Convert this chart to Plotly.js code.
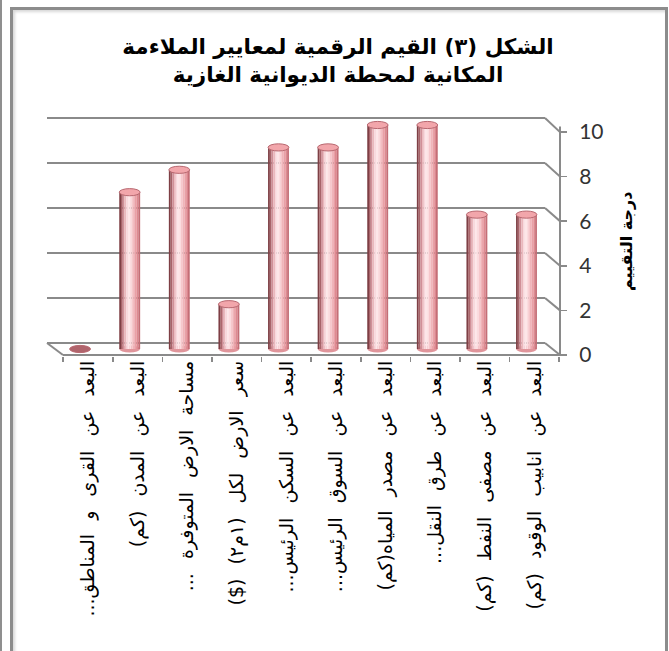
<!DOCTYPE html>
<html>
<head>
<meta charset="utf-8">
<script src="https://cdn.plot.ly/plotly-3.0.1.min.js"></script>
<style>
  html, body { margin: 0; padding: 0; background: #ffffff; }
  #leftline { position: absolute; left: 0; top: 0; width: 2px; height: 651px; background: #8f8f8f; }
  #frame { position: absolute; left: 10px; top: 7px; width: 652px; height: 700px;
           border: 3px solid #8c8c8c; border-bottom: none;
           box-shadow: inset 2px 2px 3px #d8d8d8; }
  #chart { position: absolute; left: 0; top: 0; width: 669px; height: 651px; }
  #chart .xtick text { word-spacing: 8px; }
</style>
</head>
<body>
<div id="leftline"></div>
<div id="frame"></div>
<div id="chart"></div>
<script>
// ---- data ----
const categories = [
  "البعد عن القرى و المناطق...",
  "البعد عن المدن (كم)",
  "مساحة الارض المتوفرة ...",
  "سعر الارض لكل (١م٢) ($)",
  "البعد عن السكن الرئيس...",
  "البعد عن السوق الرئيس...",
  "البعد عن مصدر المياه(كم)",
  "البعد عن طرق النقل...",
  "البعد عن مصفى النفط (كم)",
  "البعد عن انابيب الوقود (كم)"
];
const values = [0, 7, 8, 2, 9, 9, 10, 10, 6, 6];
const tickValues = [0, 2, 4, 6, 8, 10];
const tickLabels = ["0", "2", "4", "6", "8", "10"];
const chartTitle = "الشكل (٣) القيم الرقمية لمعايير الملاءمة<br>المكانية لمحطة الديوانية الغازية";
const yTitle = "درجة التقييم";

// right-to-left marks so trailing punctuation stays with the Arabic run
const catText = categories.map(c => "\u200F" + c + "\u200F");

// ---- geometry (pixel helpers for the pseudo-3D look) ----
const W = 669, H = 651;
const mL = 40, mR = 109, mT = 110, mB = 295;
const plotLeft = mL, plotRight = W - mR, plotTop = mT, plotBottom = H - mB;
const X0 = 88, XU = 49.6;          // category index -> px
const Y0 = 349, YU = 22.4;         // main value -> px (bar depth)
const px2x = p => (p - X0) / XU;
const px2y = p => (Y0 - p) / YU;
const backPx = v => 343 - 22.5 * v;
const frontPx = v => 355 - 22.3 * v;
const backL = 47, backR = 545, frontL = 63, frontR = plotRight;
const barShift = -0.16, barW = 0.42, capH = 0.16;

// cylinder shading strips (left -> right)
const stripColors = ["#7e3f45", "#a8646a", "#d09098", "#eab8bd", "#f8d8dc", "#fde6e8",
                     "#fbdcdf", "#f6c8cc", "#f0b4b9", "#e9a0a6", "#de8a91", "#c46e76"];
const sw = barW / stripColors.length;

const traces = stripColors.map((c, k) => ({
  type: "bar", x: categories, y: values,
  width: sw * 1.04, offset: barShift - barW / 2 + k * sw,
  marker: { color: c, line: { width: 0 } },
  hoverinfo: "skip", showlegend: false
}));
traces.push({
  type: "scatter", x: categories, y: values, yaxis: "y2", mode: "markers",
  marker: { opacity: 0 }, hoverinfo: "skip", showlegend: false
});

const shapes = [];
const grid = () => ({ color: "#8a8a8a", width: 2 });
tickValues.forEach(t => {
  shapes.push({ type: "line", layer: "below", xref: "x", yref: "y",
    x0: px2x(backL), x1: px2x(backR), y0: px2y(backPx(t)), y1: px2y(backPx(t)), line: grid() });
  shapes.push({ type: "line", layer: "below", xref: "x", yref: "y",
    x0: px2x(backR), x1: px2x(frontR), y0: px2y(backPx(t)), y1: px2y(frontPx(t)), line: grid() });
});
// floor
shapes.push({ type: "line", layer: "below", xref: "x", yref: "y",
  x0: px2x(backL), x1: px2x(frontL), y0: px2y(backPx(0)), y1: px2y(frontPx(0)), line: grid() });
shapes.push({ type: "line", layer: "below", xref: "x", yref: "y",
  x0: px2x(frontL), x1: px2x(frontR), y0: px2y(frontPx(0)), y1: px2y(frontPx(0)), line: grid() });
// value axis line
shapes.push({ type: "line", layer: "above", xref: "paper", yref: "y",
  x0: 1, x1: 1, y0: px2y(frontPx(-0.1)), y1: px2y(frontPx(10.25)), line: { color: "#8a8a8a", width: 2 } });
// cylinder bottoms and caps
values.forEach((v, i) => {
  const cx = i + barShift;
  shapes.push({ type: "circle", layer: "below", xref: "x", yref: "y",
    x0: cx - barW / 2, x1: cx + barW / 2, y0: -capH, y1: capH,
    fillcolor: "#e0959b", line: { width: 0 } });
  shapes.push({ type: "circle", layer: "above", xref: "x", yref: "y",
    x0: cx - barW / 2, x1: cx + barW / 2, y0: v - capH, y1: v + capH,
    fillcolor: v === 0 ? "#b0646c" : "#f2a6ab", line: { color: "#b86870", width: 1 } });
});

const layout = {
  width: W, height: H,
  margin: { l: mL, r: mR, t: mT, b: mB },
  paper_bgcolor: "rgba(0,0,0,0)", plot_bgcolor: "rgba(0,0,0,0)",
  barmode: "overlay", showlegend: false,
  title: {
    text: chartTitle, xref: "container", yref: "container",
    x: 338 / W, y: 1 - 54 / H, xanchor: "center", yanchor: "middle",
    font: { family: "DejaVu Sans", size: 21.5, color: "#000", weight: "bold" }
  },
  xaxis: {
    type: "category", categoryorder: "array", categoryarray: categories,
    tickmode: "array", tickvals: categories, ticktext: catText,
    range: [px2x(plotLeft), px2x(plotRight)], fixedrange: true,
    showgrid: false, zeroline: false, showline: false,
    ticks: "outside", tickson: "boundaries", ticklen: 5, tickwidth: 1.5, tickcolor: "#8a8a8a",
    tickangle: -90, automargin: false,
    tickfont: { family: "DejaVu Sans", size: 19, color: "#000" }
  },
  yaxis: {
    range: [px2y(plotBottom), px2y(plotTop)], visible: false, fixedrange: true,
    showgrid: false, zeroline: false
  },
  yaxis2: {
    overlaying: "y", side: "right", anchor: "x",
    range: [(355 - plotBottom) / 22.3, (355 - plotTop) / 22.3], fixedrange: true,
    tickmode: "array", tickvals: tickValues, ticktext: tickLabels,
    showgrid: false, zeroline: false, showline: false,
    ticks: "outside", ticklen: 6, tickwidth: 1.5, tickcolor: "#8a8a8a",
    ticklabelstandoff: 8, automargin: false,
    tickfont: { family: "Lato", size: 21, color: "#333" }
  },
  shapes: shapes,
  annotations: [{
    text: yTitle, xref: "paper", yref: "paper",
    x: (626 - plotLeft) / (plotRight - plotLeft), y: (plotBottom - 242) / (plotBottom - plotTop),
    xanchor: "center", yanchor: "middle", textangle: -90, showarrow: false,
    font: { family: "DejaVu Sans", size: 16, color: "#000", weight: "bold" }
  }]
};

Plotly.newPlot("chart", traces, layout, { displayModeBar: false, staticPlot: true });
</script>
</body>
</html>
